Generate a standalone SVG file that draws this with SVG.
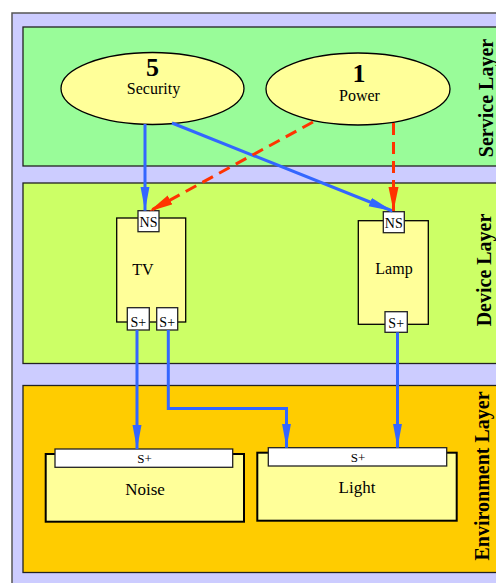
<svg xmlns="http://www.w3.org/2000/svg" width="496" height="583" viewBox="0 0 496 583">
<style>
text{font-family:"Liberation Serif","Times New Roman",serif;fill:#000}
.layer{stroke:#222;stroke-width:1.3}
.lbl{font-size:20px;font-weight:bold;text-anchor:middle}
.node{fill:#ffff99;stroke:#000;stroke-width:1.3}
.port{fill:#fff;stroke:#222;stroke-width:1.3}
.pt{font-size:14px;text-anchor:middle}
.et{font-size:13px;text-anchor:middle}
.nt{font-size:16px;text-anchor:middle}
.big{font-size:26px;font-weight:bold;text-anchor:middle}
.env{fill:#ffff99;stroke:#000;stroke-width:2}
.blue{fill:none;stroke:#3366ff;stroke-width:3}
.red{fill:none;stroke:#ff3300;stroke-width:3;stroke-dasharray:12 7}
</style>
<defs>
<marker id="ab" markerUnits="userSpaceOnUse" markerWidth="26" markerHeight="10" refX="24" refY="4.5" orient="auto"><path d="M0,0 L24,4.5 L0,9 z" fill="#3366ff"/></marker>
<marker id="ar" markerUnits="userSpaceOnUse" markerWidth="26" markerHeight="12" refX="24" refY="5" orient="auto"><path d="M0,0 L24,5 L0,10 z" fill="#ff3300"/></marker>
</defs>
<rect x="0" y="0" width="496" height="583" fill="#fff"/>
<rect x="12" y="13" width="500" height="590" fill="#ccccff" stroke="#555" stroke-width="1.5"/>
<g id="service-layer">
<rect class="layer" x="23" y="27" width="490" height="139" fill="#99fc99"/>
<text class="lbl" transform="translate(492.5,98) rotate(-90)">Service Layer</text>
</g>
<g id="device-layer">
<rect class="layer" x="23" y="183" width="490" height="180.5" fill="#ccff66"/>
<text class="lbl" transform="translate(490.5,270) rotate(-90)">Device Layer</text>
</g>
<g id="environment-layer">
<rect class="layer" x="23" y="385.5" width="490" height="187" fill="#ffcc00"/>
<text class="lbl" transform="translate(488.5,476) rotate(-90)">Environment Layer</text>
</g>
<g id="security">
<ellipse class="node" cx="152.5" cy="88.5" rx="91.5" ry="36"/>
<text class="big" x="152.5" y="76">5</text>
<text class="nt" x="153.5" y="94">Security</text>
</g>
<g id="power">
<ellipse class="node" cx="358" cy="89" rx="92" ry="36"/>
<text class="big" x="359" y="81.5">1</text>
<text class="nt" x="359.5" y="100.5">Power</text>
</g>
<g id="tv">
<rect class="node" x="116.7" y="218" width="69" height="104"/>
<text class="nt" x="143" y="275">TV</text>
<rect class="port" x="138" y="210.7" width="21" height="21"/>
<text class="pt" x="148.5" y="226.5">NS</text>
<rect class="port" x="127.3" y="307.7" width="22" height="22.3"/>
<text class="pt" x="138.3" y="326.5">S+</text>
<rect class="port" x="156.7" y="307.7" width="21" height="22.3"/>
<text class="pt" x="167.2" y="326.5">S+</text>
</g>
<g id="lamp">
<rect class="node" x="358.3" y="220.7" width="70" height="103.6"/>
<text class="nt" x="394" y="274">Lamp</text>
<rect class="port" x="383.3" y="211.7" width="21" height="21"/>
<text class="pt" x="393.8" y="227.5">NS</text>
<rect class="port" x="385" y="311.7" width="22.3" height="20.6"/>
<text class="pt" x="396.2" y="328">S+</text>
</g>
<g id="noise">
<rect class="env" x="45.7" y="454" width="198.3" height="67.7"/>
<rect class="port" x="55" y="449" width="177.7" height="18.3"/>
<text class="et" x="144.5" y="462.5">S+</text>
<text class="nt" x="145" y="495" style="font-size:17px">Noise</text>
</g>
<g id="light">
<rect class="env" x="257.3" y="452.7" width="199.4" height="68"/>
<rect class="port" x="268.3" y="447.7" width="178.4" height="18.3"/>
<text class="et" x="358" y="461.7">S+</text>
<text class="nt" x="357" y="493" style="font-size:17px">Light</text>
</g>
<g id="connectors">
<line class="blue" x1="145" y1="124" x2="145" y2="210.7" marker-end="url(#ab)"/>
<line class="blue" x1="172" y1="123" x2="392.5" y2="211" marker-end="url(#ab)"/>
<line class="red" x1="313" y1="122" x2="149" y2="211.5" marker-end="url(#ar)"/>
<line class="red" x1="393.5" y1="123" x2="393.5" y2="211" marker-end="url(#ar)"/>
<line class="blue" x1="137" y1="330" x2="137" y2="449" marker-end="url(#ab)"/>
<polyline class="blue" points="168.3,330 168.3,408.5 286.5,408.5 286.5,447.7" marker-end="url(#ab)"/>
<line class="blue" x1="397.5" y1="332.3" x2="397.5" y2="447.7" marker-end="url(#ab)"/>
</g>
</svg>
